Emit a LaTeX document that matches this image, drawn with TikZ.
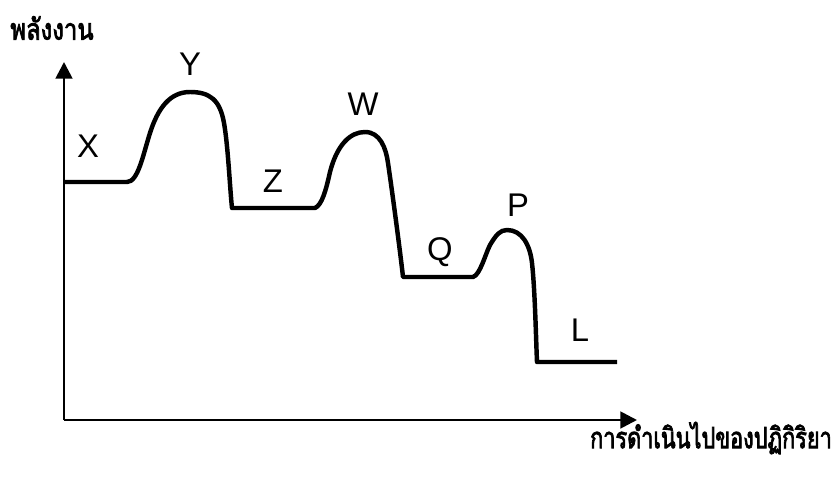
\documentclass[tikz,border=0pt]{standalone}
\usepackage{fontspec}
\setmainfont{Liberation Sans}
\newfontfamily\thaifont[Script=Thai, FakeBold=3]{Loma}
\usetikzlibrary{arrows.meta}

\begin{document}
\begin{tikzpicture}[x=0.03cm, y=-0.03cm,
  axis/.style={line width=2.4pt, -{Triangle[length=0.5cm, width=0.5cm]}},
  curve/.style={line width=3.8pt, line join=round},
  letter/.style={font=\fontsize{28}{28}\selectfont},
  thai/.style={font=\thaifont\fontsize{25}{28}\selectfont, inner sep=0pt}]
  \useasboundingbox (0,0) rectangle (835,480);

  % Axes
  \coordinate (origin) at (64,420);
  \coordinate (ytop) at (64,62);
  \coordinate (xend) at (637,420);
  \draw[axis] (origin) -- (ytop);
  \draw[axis] (origin) -- (xend);
  \node[thai] (energy) at (52,28) {\resizebox{2.5cm}{\height}{พลังงาน}};
  \node[thai] (progress) at (711,438) {\resizebox{7.25cm}{\height}{การดำเนินไปของปฏิกิริยา}};

  % Energy profile
  \draw[curve] (origin |- 0,182) -- (127,182)
    .. controls (138,182) and (143,155) .. (150,133)
    .. controls (158,108) and (170,92) .. (190,92)
    .. controls (210,92) and (220,100) .. (224,123)
    .. controls (228,145) and (230,190) .. (232,208)
    -- (315,208)
    .. controls (322,205) and (326,190) .. (330,172)
    .. controls (337,145) and (350,132) .. (365,132)
    .. controls (380,132) and (386,148) .. (388,163)
    .. controls (392,190) and (400,250) .. (403,277)
    -- (473,277)
    .. controls (480,275) and (485,255) .. (490,245)
    .. controls (496,235) and (500,230) .. (507,230)
    .. controls (522,230) and (530,245) .. (532,263)
    .. controls (535,290) and (536,340) .. (537,362)
    -- (617,362);

  % Labels
  \node[letter] (X) at (88,146) {X};
  \node[letter] (Y) at (190,64) {Y};
  \node[letter] (Z) at (273,181) {Z};
  \node[letter] (W) at (363,104) {W};
  \node[letter] (Q) at (440,252) {Q};
  \node[letter] (P) at (518,205) {P};
  \node[letter] (L) at (580,330) {L};
\end{tikzpicture}
\end{document}
